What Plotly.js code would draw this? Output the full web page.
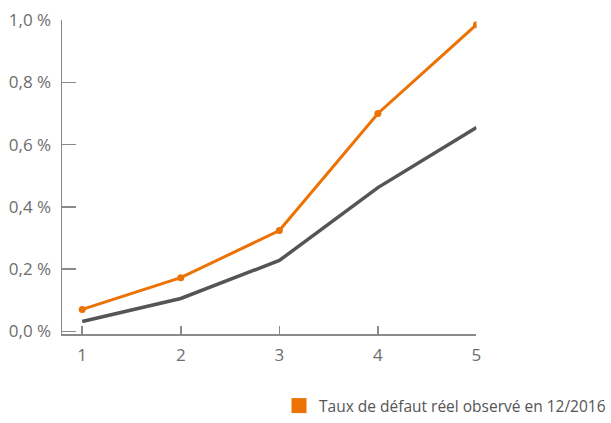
<!DOCTYPE html>
<html>
<head>
<meta charset="utf-8">
<script src="https://cdn.plot.ly/plotly-3.0.1.min.js"></script>
<style>html,body{margin:0;padding:0;background:#fff;}#chart{width:611px;height:423px;}</style>
</head>
<body>
<div id="chart"></div>
<script>
const years = [1, 2, 3, 4, 5];
const observed = [0.071, 0.173, 0.324, 0.70, 0.985];
const expected = [0.032, 0.106, 0.228, 0.462, 0.655];
const legendLabel = "Taux de défaut réel observé en 12/2016";
const yTicks = [0, 0.2, 0.4, 0.6, 0.8, 1.0];
const yTickText = yTicks.map(v => v.toFixed(1).replace(".", ",") + " %");

const orange = "#EC7204";
const grey = "#555555";
const textColor = "#6d6d6d";
const axisColor = "#8a8a8a";

const traces = [
  {x: years, y: expected, mode: "lines", line: {color: grey, width: 3.5}, showlegend: false, hoverinfo: "skip"},
  {x: years, y: observed, mode: "lines+markers", line: {color: orange, width: 3}, marker: {color: orange, size: 7}, showlegend: false, name: legendLabel},
  {x: [null], y: [null], mode: "markers", name: legendLabel, marker: {symbol: "square", color: orange, size: 15}, showlegend: true}
];

const layout = {
  width: 611, height: 423,
  margin: {l: 62, r: 0, t: 20, b: 0},
  paper_bgcolor: "#fff", plot_bgcolor: "#fff",
  font: {family: "Open Sans, sans-serif", color: textColor, size: 16},
  xaxis: {
    domain: [0, 0.7577],
    range: [0.795, 5], tickmode: "array", tickvals: years, ticktext: years.map(String),
    showgrid: false, zeroline: false, showline: true, linecolor: axisColor, linewidth: 1.5,
    ticks: "inside", ticklen: 8, tickwidth: 1.5, tickcolor: axisColor, ticklabelstandoff: 5,
    tickfont: {size: 17, color: textColor}
  },
  yaxis: {
    domain: [0.2208, 1],
    range: [-0.008, 1.0], tickmode: "array", tickvals: yTicks, ticktext: yTickText,
    showgrid: false, zeroline: false, showline: true, linecolor: axisColor, linewidth: 1.5,
    ticks: "inside", ticklen: 14, tickwidth: 1.5, tickcolor: axisColor, ticklabelstandoff: 6,
    tickfont: {size: 17, color: textColor}
  },
  showlegend: true,
  legend: {
    x: 0.397, y: 0, xanchor: "left", yanchor: "bottom",
    font: {size: 15.5, color: "#555"}, itemwidth: 30, bgcolor: "rgba(0,0,0,0)"
  }
};

Plotly.newPlot("chart", traces, layout, {displayModeBar: false, staticPlot: true});
</script>
</body>
</html>
